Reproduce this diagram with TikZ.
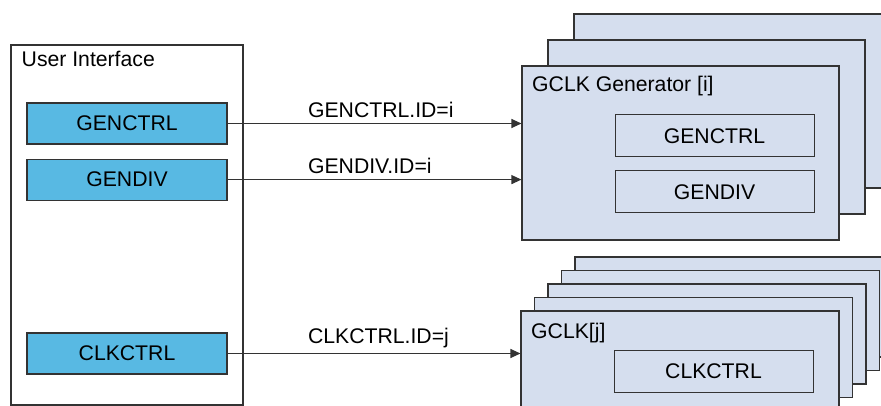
\documentclass[tikz,border=0pt]{standalone}
\usepackage{fontspec}
\setmainfont{Liberation Sans}
\usepackage{xcolor}
\usetikzlibrary{
  arrows.meta,
  positioning}
\definecolor{regblue}{HTML}{58B9E3}
\definecolor{genfill}{HTML}{D5DEEE}
\definecolor{edge}{HTML}{333333}
\tikzset{every picture/.style={font issue=\fontsize{21.2}{25}},
         font issue/.style={execute at begin picture={#1\selectfont}}
        }

\begin{document}
\begin{tikzpicture}[x=1pt, y=-1pt,
  frame/.style={draw=edge, line width=1.1pt, inner sep=0pt},
  title/.style={anchor=base west, inner sep=0pt},
  idlabel/.style={pos=0, anchor=south west, inner xsep=0pt, inner ysep=5pt, xshift=80pt},
  uireg/.style={frame, fill=regblue, minimum width=200pt, minimum height=41pt},
  genreg/.style={frame, line width=1pt, fill=genfill, minimum width=199pt, minimum height=42pt},
  genbox/.style={frame, fill=genfill, minimum width=317pt, minimum height=174pt},
  clkbox/.style={frame, fill=genfill, minimum width=318pt, minimum height=100pt},
  link/.style={draw=edge, line width=1.1pt, -{Triangle[length=10pt,width=9pt]}}]
\useasboundingbox (0,0) rectangle (881,406);
\clip (0,0) rectangle (881,406);

% user interface
\node[frame, minimum width=232pt, minimum height=360pt](ui) at (127,225){};
\node[title](uititle) at (21.5,67){User Interface};
\node[uireg](uigenctrl) at (127,123.5){GENCTRL};
\node[uireg, below = 14pt of uigenctrl](uigendiv){GENDIV};
\node[uireg](uiclkctrl) at (127,353.5){CLKCTRL};

% generator stack
\foreach \k in {2,1}
  \node[genbox](gen\k) at ({680.5+26*\k},{153-26*\k}){};
\node[genbox](gen0) at (680.5,153){};
\node[title](gentitle) at (532,92){GCLK Generator [i]};
\node[genreg](gengenctrl) at (714.5,136){GENCTRL};
\node[genreg, below = 13pt of gengenctrl](gengendiv){GENDIV};

% gclk stack
\foreach \k in {4,3,2,1}
  \node[clkbox](clk\k) at ({680+13.5*\k},{361-13.5*\k}){};
\node[clkbox](clk0) at (680,361){};
\node[title](clktitle) at (531,338){GCLK[j]};
\node[genreg](clkclkctrl) at (713.5,371){CLKCTRL};

\draw[link] (uigenctrl.east) -- node[idlabel]{GENCTRL.ID=i} (uigenctrl.east -| gen0.west);
\draw[link] (uigendiv.east) -- node[idlabel]{GENDIV.ID=i} (uigendiv.east -| gen0.west);
\draw[link] (uiclkctrl.east) -- node[idlabel]{CLKCTRL.ID=j} (uiclkctrl.east -| clk0.west);
\end{tikzpicture}
\end{document}
